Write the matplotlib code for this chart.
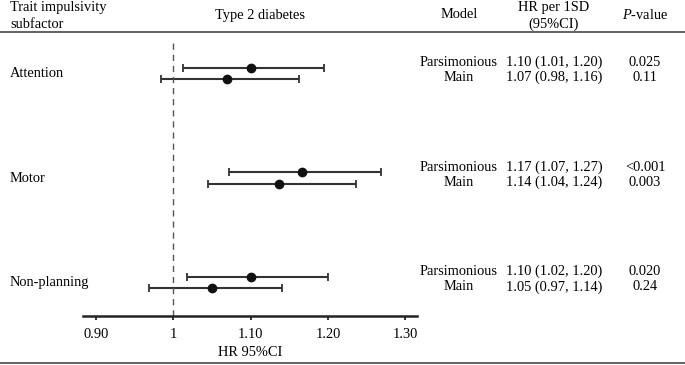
import matplotlib
matplotlib.use("Agg")
import matplotlib.pyplot as plt
from matplotlib.transforms import blended_transform_factory

plt.rcParams['font.family'] = ['Liberation Serif', 'DejaVu Serif']
plt.rcParams['mathtext.fontset'] = 'custom'
plt.rcParams['mathtext.rm'] = 'Liberation Serif'
plt.rcParams['mathtext.it'] = 'Liberation Serif:italic'

# data
subfactors = ['Attention', 'Motor', 'Non-planning']
models = ['Parsimonious', 'Main']
hr_pars = [1.10, 1.166, 1.10]
lo_pars = [1.012, 1.072, 1.017]
hi_pars = [1.195, 1.268, 1.20]
hr_main = [1.069, 1.136, 1.05]
lo_main = [0.984, 1.045, 0.968]
hi_main = [1.163, 1.236, 1.14]
ci_pars = ['1.10 (1.01, 1.20)', '1.17 (1.07, 1.27)', '1.10 (1.02, 1.20)']
ci_main = ['1.07 (0.98, 1.16)', '1.14 (1.04, 1.24)', '1.05 (0.97, 1.14)']
p_pars = ['0.025', '<0.001', '0.020']
p_main = ['0.11', '0.003', '0.24']
xticks = [0.90, 1.0, 1.10, 1.20, 1.30]
xticklabels = ['0.90', '1', '1.10', '1.20', '1.30']

W, H = 685, 365
fig = plt.figure(figsize=(W / 100, H / 100), dpi=100)

def fx(px):
    return px / W

def fy(py):
    return 1 - py / H

ax = fig.add_axes([fx(83), fy(316), fx(417) - fx(83), fy(43) - fy(316)])
ax.set_xlim(0.883, 1.315)
ax.set_ylim(2.374, -0.236)

fs = 10.4
line_col = '#333333'
off = 0.108  # offset of main model row below parsimonious row

for g in range(len(subfactors)):
    ax.errorbar(hr_pars[g], g, xerr=[[hr_pars[g] - lo_pars[g]], [hi_pars[g] - hr_pars[g]]],
                fmt='o', color='#111111', ecolor=line_col, elinewidth=1.5,
                capsize=2.6, capthick=1.3, markersize=6)
    ax.errorbar(hr_main[g], g + off, xerr=[[hr_main[g] - lo_main[g]], [hi_main[g] - hr_main[g]]],
                fmt='o', color='#111111', ecolor=line_col, elinewidth=1.5,
                capsize=2.6, capthick=1.3, markersize=6)

ax.axvline(1.0, color='#555555', lw=1.0, dashes=(4.5, 3.5))

for s in ['top', 'right', 'left']:
    ax.spines[s].set_visible(False)
ax.spines['bottom'].set_linewidth(1.8)
ax.spines['bottom'].set_color('#222222')
ax.set_yticks([])
ax.set_xticks(xticks)
ax.set_xticklabels(xticklabels, fontsize=fs)
ax.tick_params(axis='x', direction='out', length=3, width=1.3, color='#222222', pad=6)
ax.set_xlabel('HR 95%CI', fontsize=fs, labelpad=3)
ax.patch.set_alpha(0)

# text columns
tr = blended_transform_factory(fig.transFigure, ax.transData)
for g, name in enumerate(subfactors):
    fig.text(fx(10), g + 0.055, name, transform=tr, ha='left', va='center', fontsize=fs)
    fig.text(fx(459), g - 0.05, models[0], transform=tr, ha='center', va='center', fontsize=fs)
    fig.text(fx(459), g + 0.095, models[1], transform=tr, ha='center', va='center', fontsize=fs)
    fig.text(fx(554), g - 0.05, ci_pars[g], transform=tr, ha='center', va='center', fontsize=fs)
    fig.text(fx(554), g + 0.095, ci_main[g], transform=tr, ha='center', va='center', fontsize=fs)
    fig.text(fx(645), g - 0.05, p_pars[g], transform=tr, ha='center', va='center', fontsize=fs)
    fig.text(fx(645), g + 0.095, p_main[g], transform=tr, ha='center', va='center', fontsize=fs)

# header
fig.text(fx(10), fy(7), 'Trait impulsivity', ha='left', va='center', fontsize=fs)
fig.text(fx(10), fy(24), 'subfactor', ha='left', va='center', fontsize=fs)
fig.text(fx(260), fy(15), 'Type 2 diabetes', ha='center', va='center', fontsize=fs)
fig.text(fx(459), fy(15), 'Model', ha='center', va='center', fontsize=fs)
fig.text(fx(554), fy(7), 'HR per 1SD', ha='center', va='center', fontsize=fs)
fig.text(fx(554), fy(24), '(95%CI)', ha='center', va='center', fontsize=fs)
fig.text(fx(645), fy(15), r'$\it{P}$-value', ha='center', va='center', fontsize=fs)

# horizontal rules
fig.add_artist(plt.Line2D([0, 1], [fy(32), fy(32)], color='#555555', lw=1.3))
fig.add_artist(plt.Line2D([0, 1], [fy(363), fy(363)], color='#555555', lw=1.3))

fig.savefig('out.png', dpi=100)
